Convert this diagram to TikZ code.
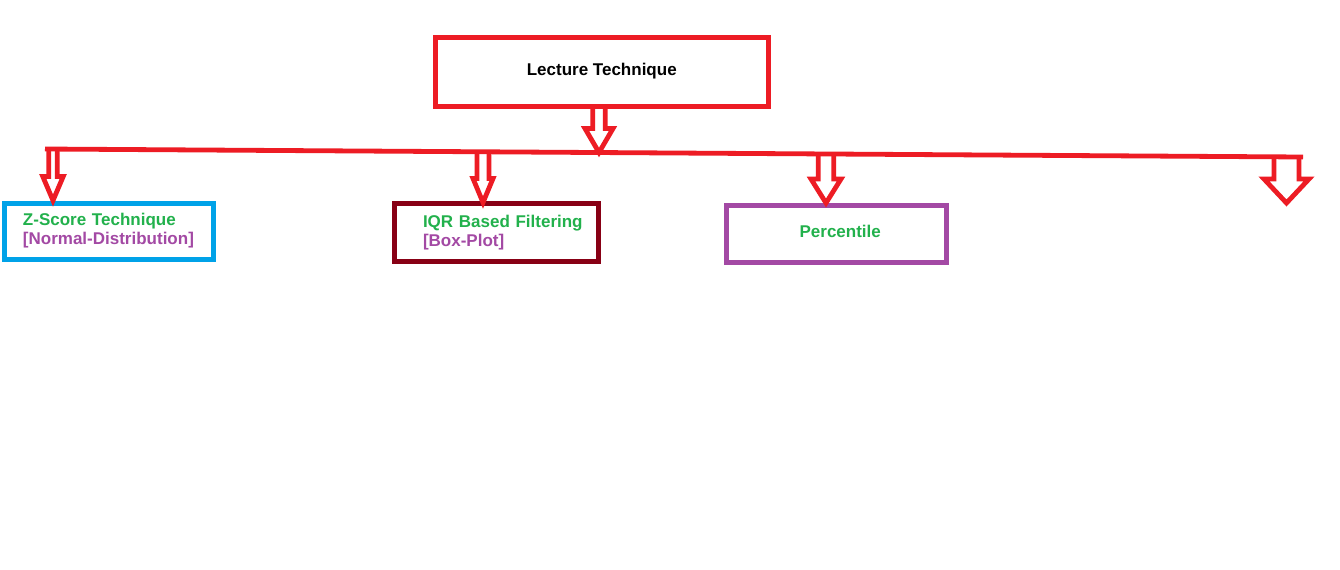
\documentclass[tikz,border=0pt]{standalone}
\usepackage{fontspec}
\setmainfont{Liberation Sans}
\usetikzlibrary{calc}
\definecolor{pred}{HTML}{ED1C24}
\definecolor{pgreen}{HTML}{22B14C}
\definecolor{ppurple}{HTML}{A349A4}
\definecolor{pblue}{HTML}{00A2E8}
\definecolor{pdark}{HTML}{880015}
\tikzset{
  txt/.style={font=\fontsize{8.5}{9.5}\selectfont\bfseries},
  boxed/.style={rectangle, line width=2.5pt, txt},
  redline/.style={draw=pred, line width=2.4pt},
  hollow/.style 2 args={redline, to path={let \p1=(\tikztostart), \p2=(\tikztotarget) in
    (\x1-#1,\y1) -- (\x1-#1,\y2+12pt) -- (\x1-#2,\y2+12pt) -- (\x1,\y2) --
    (\x1+#2,\y2+12pt) -- (\x1+#1,\y2+12pt) -- (\x1+#1,\y1)}}
}
\begin{document}
\begin{tikzpicture}[x=0.5pt,y=-0.5pt]
\useasboundingbox (0,0) rectangle (1340,569);
\fill[white] (0,0) rectangle (1340,569);

% boxes
\node[boxed, draw=pred, minimum width=166.25pt, minimum height=34.5pt, inner sep=0pt] (lecture) at (601.75,71.5) {\raisebox{0.5pt}{Lecture Technique}};
\node[boxed, draw=pblue, minimum width=104.5pt, minimum height=28pt, inner xsep=9.5pt, inner ysep=0pt, text width=85.5pt, align=left] (zs) at (108.5,231)
  {\mbox{\textcolor{pgreen}{Z-Score Technique}}\\\mbox{\textcolor{ppurple}{[Normal-Distribution]}}};
\node[boxed, draw=pdark, minimum width=102pt, minimum height=29.25pt, inner xsep=14.25pt, inner ysep=0pt, text width=73.5pt, align=left] (iqr) at (496.5,232.25)
  {\mbox{\textcolor{pgreen}{IQR Based Filtering}}\\\mbox{\textcolor{ppurple}{[Box-Plot]}}};
\node[boxed, draw=ppurple, minimum width=109.75pt, minimum height=28.5pt, inner sep=0pt, text=pgreen] (pct) at (836.25,234) {\hspace*{4pt}\raisebox{3pt}{Percentile}};

% bus line
\coordinate (busL) at (45,149);
\coordinate (busR) at (1303,157);
\draw[redline] (busL) -- (busR);

% points on the bus
\coordinate (a0) at (599,152.5);
\coordinate (a1) at (53,149.05);
\coordinate (a2) at (483,151.8);
\coordinate (a3) at (826,154);
\coordinate (a4) at (1286.5,156.9);
\coordinate (rtip) at (1286.5,203);

% hollow arrows
\draw[hollow={3.1pt}{7pt}] (lecture.south -| a0) to (a0);
\draw[hollow={2.1pt}{5.1pt}] (a1) to (a1 |- zs.north);
\draw[hollow={3pt}{5pt}] (a2) to ($(a2 |- iqr.north)+(0,2)$);
\draw[hollow={3.9pt}{7.5pt}] (a3) to (a3 |- pct.north);
\draw[hollow={6.25pt}{11.25pt}] (a4) to (rtip);
\end{tikzpicture}
\end{document}
